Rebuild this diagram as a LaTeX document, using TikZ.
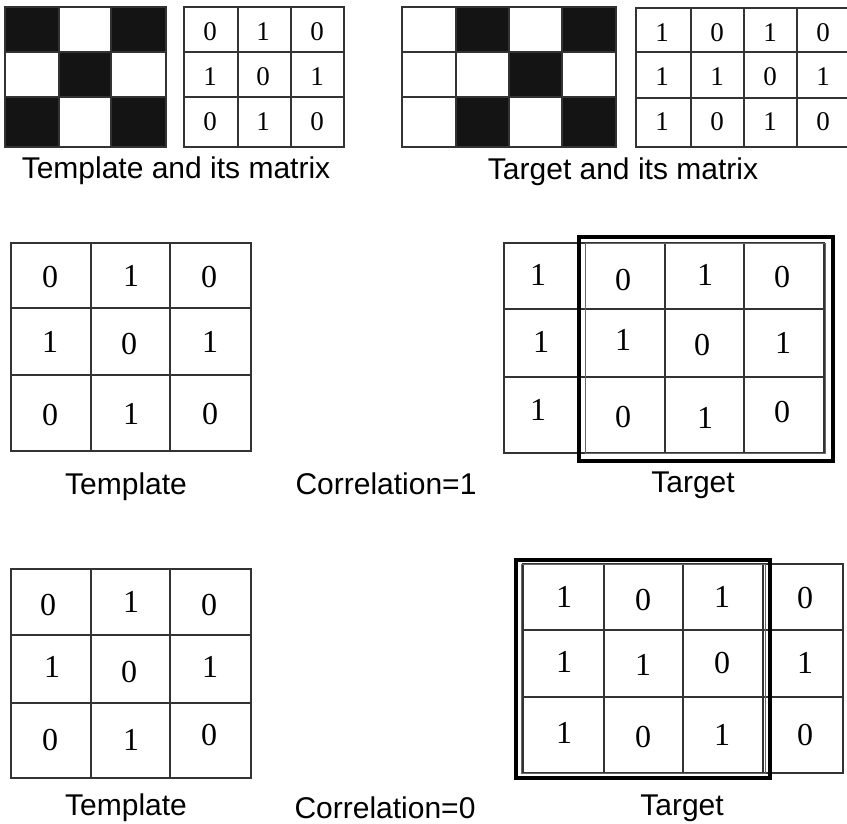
\documentclass[tikz,border=0pt]{standalone}
\usepackage{fontspec}
\setmainfont{Liberation Serif}
\newfontfamily\labelfont{Liberation Sans}
\begin{document}
\begin{tikzpicture}[x=1pt,y=-1pt,
  gridline/.style={draw=black!80, line width=1.4pt},
  blackcell/.style={fill=black!92},
  numA/.style={font=\fontsize{27}{27}\selectfont, inner sep=0pt},
  numB/.style={font=\fontsize{32}{32}\selectfont, inner sep=0pt},
  lbl/.style={font=\labelfont\fontsize{30}{30}\selectfont, inner sep=0pt, anchor=base},
  framebox/.style={draw=black, line width=4pt},
  innerbox/.style={draw=black!60, line width=1pt}]
\useasboundingbox (0,0) rectangle (847,823);

% ---------- top: template pattern ----------
\fill[blackcell] (5,7) rectangle (59,52);
\fill[blackcell] (111,7) rectangle (166,52);
\fill[blackcell] (59,52) rectangle (111,97);
\fill[blackcell] (5,97) rectangle (59,147);
\fill[blackcell] (111,97) rectangle (166,147);
\draw[gridline] (5,7) rectangle (166,147);
\draw[gridline] (59,7) -- (59,147) (111,7) -- (111,147) (5,52) -- (166,52) (5,97) -- (166,97);

% template matrix
\draw[gridline] (184,7) rectangle (344,147);
\draw[gridline] (238,7) -- (238,147) (291,7) -- (291,147) (184,52) -- (344,52) (184,97) -- (344,97);
\node[numA] (ta11) at (210,32) {0};
\node[numA] (ta12) at (263,32) {1};
\node[numA] (ta13) at (317,32) {0};
\node[numA] (ta21) at (210,77) {1};
\node[numA] (ta22) at (263,77) {0};
\node[numA] (ta23) at (317,77) {1};
\node[numA] (ta31) at (210,122) {0};
\node[numA] (ta32) at (263,122) {1};
\node[numA] (ta33) at (317,122) {0};
\node[lbl] (lblA) at (176,178) {Template and its matrix};

% ---------- top: target pattern ----------
\fill[blackcell] (456,7) rectangle (509,52);
\fill[blackcell] (562,7) rectangle (616,52);
\fill[blackcell] (509,52) rectangle (562,97);
\fill[blackcell] (456,97) rectangle (509,147);
\fill[blackcell] (562,97) rectangle (616,147);
\draw[gridline] (402,7) rectangle (616,147);
\draw[gridline] (456,7) -- (456,147) (509,7) -- (509,147) (562,7) -- (562,147) (402,52) -- (616,52) (402,97) -- (616,97);

% target matrix (right side cut by the picture edge)
\draw[gridline] (851,8) -- (636,8) -- (636,147) -- (851,147);
\draw[gridline] (691,8) -- (691,147) (744,8) -- (744,147) (797,8) -- (797,147) (636,52) -- (851,52) (636,98) -- (851,98);
\node[numA] (tb11) at (662,33) {1};
\node[numA] (tb12) at (717,33) {0};
\node[numA] (tb13) at (770,33) {1};
\node[numA] (tb14) at (823,33) {0};
\node[numA] (tb21) at (662,77) {1};
\node[numA] (tb22) at (717,77) {1};
\node[numA] (tb23) at (770,77) {0};
\node[numA] (tb24) at (823,77) {1};
\node[numA] (tb31) at (662,122) {1};
\node[numA] (tb32) at (717,122) {0};
\node[numA] (tb33) at (770,122) {1};
\node[numA] (tb34) at (823,122) {0};
\node[lbl] (lblB) at (623,179) {Target and its matrix};

% ---------- middle: template ----------
\draw[gridline] (11,243) rectangle (251,451);
\draw[gridline] (91,243) -- (91,451) (170,243) -- (170,451) (11,308) -- (251,308) (11,375) -- (251,375);
\node[numB] (m11) at (50,277) {0};
\node[numB] (m12) at (131,276) {1};
\node[numB] (m13) at (209,277) {0};
\node[numB] (m21) at (50,342) {1};
\node[numB] (m22) at (129,344) {0};
\node[numB] (m23) at (210,342) {1};
\node[numB] (m31) at (50,415) {0};
\node[numB] (m32) at (131,414) {1};
\node[numB] (m33) at (210,414) {0};
\node[lbl] (lblC) at (126,494) {Template};
\node[lbl] (lblD) at (386,494) {Correlation=1};

% ---------- middle: target ----------
\draw[gridline] (504,243) rectangle (824,453);
\draw[gridline] (578,243) -- (578,453) (665,243) -- (665,453) (744,243) -- (744,453) (504,309) -- (824,309) (504,377) -- (824,377);
\draw[innerbox] (585,243) rectangle (825,453);
\draw[framebox] (579,237) rectangle (833,461);
\node[numB] (n11) at (538,275) {1};
\node[numB] (n12) at (623,280) {0};
\node[numB] (n13) at (705,275) {1};
\node[numB] (n14) at (782,277) {0};
\node[numB] (n21) at (541,342) {1};
\node[numB] (n22) at (623,340) {1};
\node[numB] (n23) at (702,345) {0};
\node[numB] (n24) at (783,343) {1};
\node[numB] (n31) at (538,410) {1};
\node[numB] (n32) at (623,417) {0};
\node[numB] (n33) at (705,418) {1};
\node[numB] (n34) at (782,412) {0};
\node[lbl] (lblE) at (693,492) {Target};

% ---------- bottom: template ----------
\draw[gridline] (11,569) rectangle (251,778);
\draw[gridline] (91,569) -- (91,778) (170,569) -- (170,778) (11,635) -- (251,635) (11,703) -- (251,703);
\node[numB] (p11) at (48,605) {0};
\node[numB] (p12) at (131,602) {1};
\node[numB] (p13) at (209,605) {0};
\node[numB] (p21) at (52,667) {1};
\node[numB] (p22) at (129,672) {0};
\node[numB] (p23) at (210,667) {1};
\node[numB] (p31) at (50,740) {0};
\node[numB] (p32) at (131,740) {1};
\node[numB] (p33) at (209,735) {0};
\node[lbl] (lblF) at (126,815) {Template};
\node[lbl] (lblG) at (385,818) {Correlation=0};

% ---------- bottom: target ----------
\draw[gridline] (523,564) rectangle (843,773);
\draw[gridline] (604,564) -- (604,773) (683,564) -- (683,773) (763,564) -- (763,773) (523,630) -- (843,630) (523,697) -- (843,697);
\draw[innerbox] (521,564) rectangle (765,773);
\draw[framebox] (516,560) rectangle (770,778);
\node[numB] (q11) at (564,597) {1};
\node[numB] (q12) at (643,600) {0};
\node[numB] (q13) at (722,597) {1};
\node[numB] (q14) at (805,598) {0};
\node[numB] (q21) at (564,662) {1};
\node[numB] (q22) at (643,665) {1};
\node[numB] (q23) at (722,663) {0};
\node[numB] (q24) at (805,663) {1};
\node[numB] (q31) at (564,733) {1};
\node[numB] (q32) at (643,737) {0};
\node[numB] (q33) at (722,735) {1};
\node[numB] (q34) at (805,735) {0};
\node[lbl] (lblH) at (682,815) {Target};
\end{tikzpicture}
\end{document}
